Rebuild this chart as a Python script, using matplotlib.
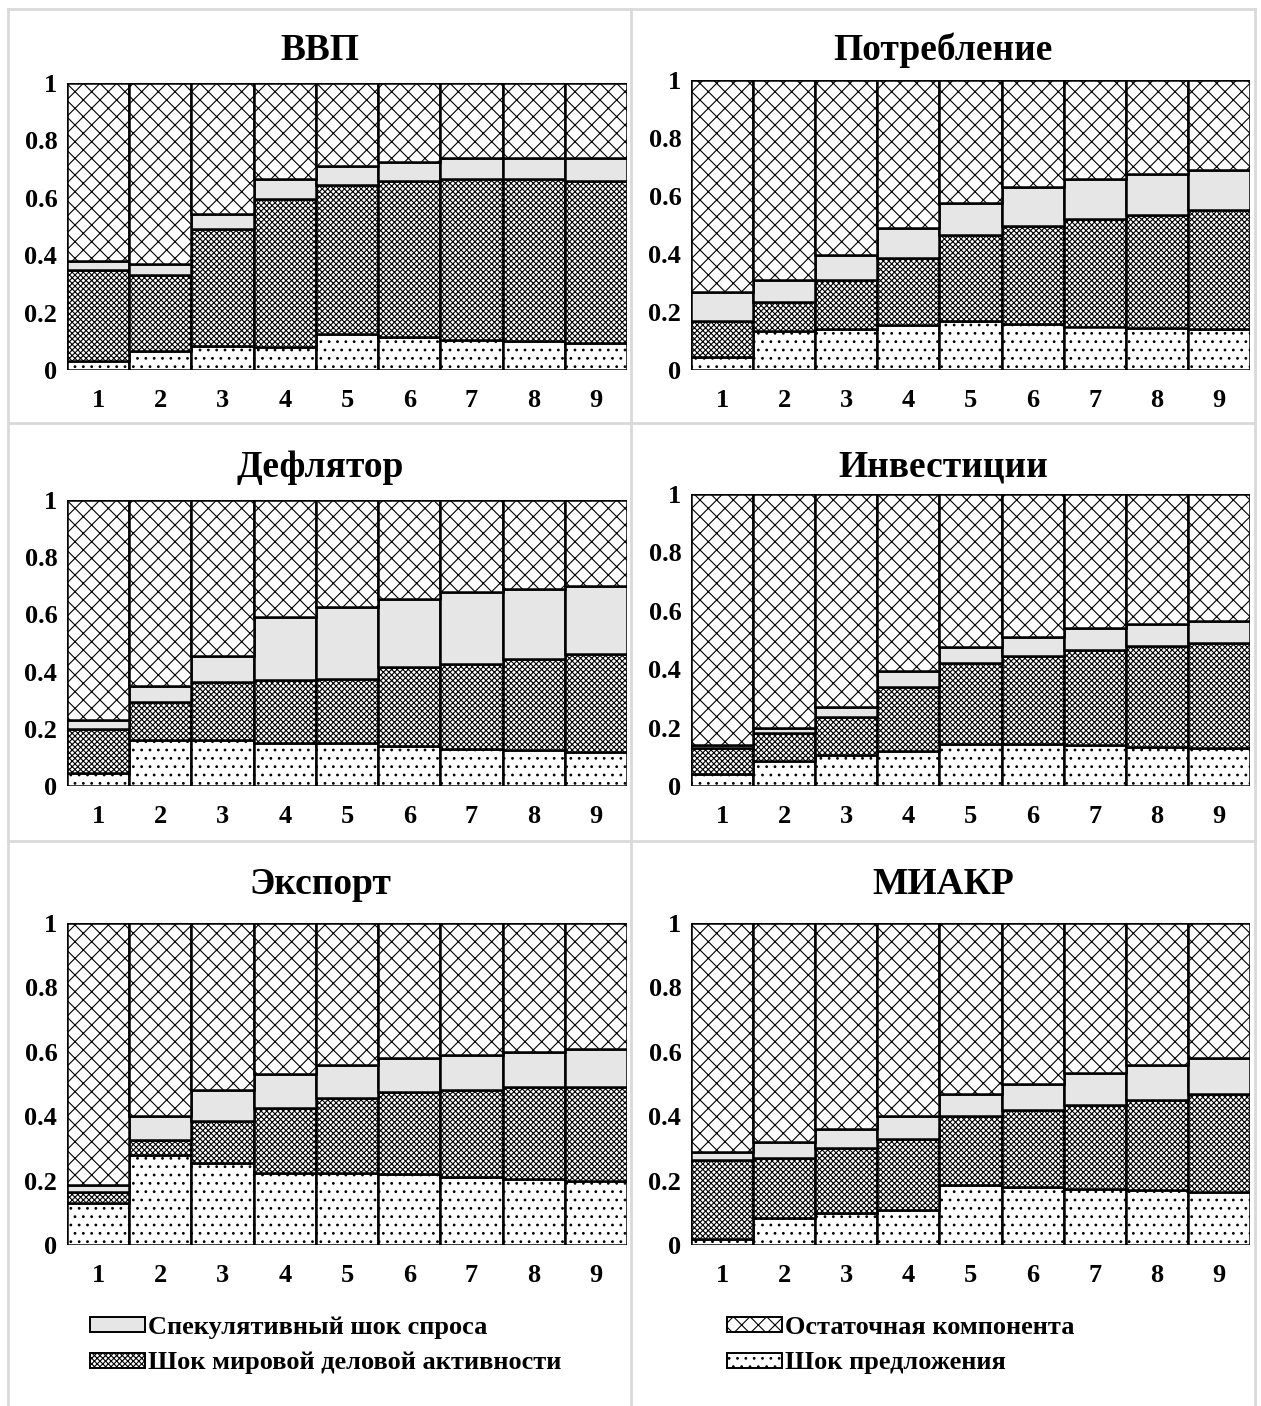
import numpy as np
import matplotlib
matplotlib.use("Agg")
from matplotlib import pyplot as plt
from matplotlib.lines import Line2D
from matplotlib.patches import Patch

plt.rcParams['font.family'] = ['Liberation Serif', 'DejaVu Serif']
plt.rcParams['font.weight'] = 'bold'
plt.rcParams['hatch.linewidth'] = 0.8

horizons = ['1', '2', '3', '4', '5', '6', '7', '8', '9']
titles = ['ВВП', 'Потребление', 'Дефлятор', 'Инвестиции', 'Экспорт', 'МИАКР']
series_names = ['Спекулятивный шок спроса', 'Шок мировой деловой активности',
                'Остаточная компонента', 'Шок предложения']

# variance shares per panel: supply shock, world business activity, speculative demand
supply = [
    [0.03, 0.065, 0.085, 0.08, 0.125, 0.115, 0.105, 0.10, 0.095],
    [0.045, 0.135, 0.14, 0.155, 0.17, 0.16, 0.15, 0.145, 0.14],
    [0.045, 0.16, 0.16, 0.15, 0.15, 0.14, 0.13, 0.125, 0.12],
    [0.04, 0.085, 0.105, 0.12, 0.145, 0.145, 0.14, 0.135, 0.13],
    [0.13, 0.28, 0.255, 0.225, 0.225, 0.22, 0.21, 0.205, 0.20],
    [0.02, 0.085, 0.10, 0.11, 0.185, 0.18, 0.175, 0.17, 0.165],
]
world = [
    [0.32, 0.265, 0.405, 0.515, 0.52, 0.545, 0.56, 0.565, 0.565],
    [0.125, 0.10, 0.17, 0.23, 0.295, 0.335, 0.37, 0.39, 0.41],
    [0.155, 0.135, 0.205, 0.22, 0.225, 0.275, 0.295, 0.32, 0.34],
    [0.09, 0.095, 0.13, 0.22, 0.275, 0.30, 0.325, 0.345, 0.36],
    [0.035, 0.045, 0.13, 0.20, 0.23, 0.255, 0.27, 0.285, 0.29],
    [0.245, 0.185, 0.20, 0.22, 0.215, 0.24, 0.26, 0.28, 0.305],
]
spec = [
    [0.03, 0.04, 0.055, 0.07, 0.065, 0.065, 0.075, 0.075, 0.08],
    [0.10, 0.075, 0.085, 0.105, 0.11, 0.135, 0.14, 0.14, 0.14],
    [0.03, 0.055, 0.09, 0.22, 0.25, 0.24, 0.255, 0.245, 0.24],
    [0.01, 0.02, 0.035, 0.055, 0.055, 0.065, 0.075, 0.075, 0.075],
    [0.02, 0.075, 0.095, 0.105, 0.105, 0.105, 0.11, 0.11, 0.12],
    [0.025, 0.05, 0.06, 0.07, 0.07, 0.08, 0.10, 0.11, 0.11],
]

W, H = 1261, 1406
fig = plt.figure(figsize=(W / 100, H / 100), dpi=100)

# axes boxes in pixels: left, top, right, bottom
boxes = [
    (67, 83, 627, 370),
    (691, 80, 1250, 370),
    (67, 500, 627, 786),
    (691, 494, 1250, 786),
    (67, 923, 627, 1245),
    (691, 923, 1250, 1245),
]
title_pos = [(320, 50), (943, 50), (320, 467), (943, 467), (320, 885), (943, 885)]

styles = {
    'supply': dict(facecolor='white', hatch='..'),
    'world': dict(facecolor='white', hatch='xxxxxx'),
    'spec': dict(facecolor='#e6e6e6', hatch=None),
    'resid': dict(facecolor='white', hatch='xx'),
}

for i in range(6):
    l, t, r, b = boxes[i]
    ax = fig.add_axes([l / W, 1 - b / H, (r - l) / W, (b - t) / H])
    x = np.arange(len(horizons))
    s = np.array(supply[i])
    w = np.array(world[i])
    d = np.array(spec[i])
    res = 1 - s - w - d
    bottom = np.zeros(len(x))
    for vals, key in [(s, 'supply'), (w, 'world'), (d, 'spec'), (res, 'resid')]:
        ax.bar(x, vals, bottom=bottom, width=1.0, edgecolor='black', linewidth=1.8,
               **styles[key])
        bottom = bottom + vals
    ax.set_xlim(-0.5, 8.5)
    ax.set_ylim(0, 1)
    ax.set_xticks(x)
    ax.set_xticklabels(horizons)
    ax.set_yticks([0, 0.2, 0.4, 0.6, 0.8, 1])
    ax.set_yticklabels(['0', '0.2', '0.4', '0.6', '0.8', '1'])
    ax.tick_params(length=0, labelsize=19)
    ax.tick_params(axis='y', pad=7)
    ax.tick_params(axis='x', pad=14)
    for sp in ax.spines.values():
        sp.set_visible(False)
    tx, ty = title_pos[i]
    fig.text(tx / W, 1 - ty / H, titles[i], ha='center', va='center',
             fontsize=27, fontweight='bold')

# table-like cell borders
gray = '#d9d9d9'
for (x0, y0, x1, y1) in [(8, 9, 1255, 9), (8, 9, 8, 1406), (1255, 9, 1255, 1406),
                         (631, 9, 631, 1406), (8, 423, 1255, 423), (8, 841, 1255, 841)]:
    fig.add_artist(Line2D([x0 / W, x1 / W], [1 - y0 / H, 1 - y1 / H], color=gray, lw=2))

handles_left = [Patch(edgecolor='black', linewidth=1.4, **styles['spec']),
                Patch(edgecolor='black', linewidth=1.4, **styles['world'])]
handles_right = [Patch(edgecolor='black', linewidth=1.4, **styles['resid']),
                 Patch(edgecolor='black', linewidth=1.4, **styles['supply'])]
leg_kw = dict(frameon=False, prop={'size': 19, 'weight': 'bold'}, handlelength=2.1,
              handleheight=0.5, handletextpad=0.1, labelspacing=0.47, borderpad=0,
              borderaxespad=0, loc='upper left')
fig.legend(handles_left, series_names[:2], bbox_to_anchor=(90 / W, 1 - 1316 / H), **leg_kw)
fig.legend(handles_right, series_names[2:], bbox_to_anchor=(727 / W, 1 - 1316 / H), **leg_kw)

fig.savefig('out.png', dpi=100)
